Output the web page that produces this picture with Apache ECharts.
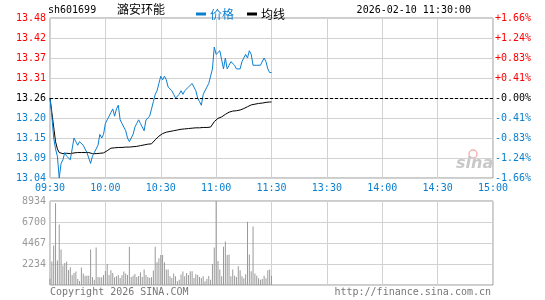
<!DOCTYPE html>
<html>
<head>
<meta charset="utf-8">
<script src="https://cdn.jsdelivr.net/npm/echarts@6/dist/echarts.min.js"></script>
<style>
html, body { margin: 0; padding: 0; background: #fff; }
#main { width: 545px; height: 300px; }
</style>
</head>
<body>
<div id="main"></div>
<script>
var stockCode = 'sh601699';
var stockName = '潞安环能';
var quoteTime = '2026-02-10 11:30:00';
var prevClose = 13.26;

var timeLabels = ['09:30', '10:00', '10:30', '11:00', '11:30', '13:30', '14:00', '14:30', '15:00'];
var priceLabels = ['13.04', '13.09', '13.15', '13.20', '13.26', '13.31', '13.37', '13.42', '13.48'];
var pctLabels = ['-1.66%', '-1.24%', '-0.83%', '-0.41%', '-0.00%', '+0.41%', '+0.83%', '+1.24%', '+1.66%'];
var volLabels = ['', '2234', '4467', '6700', '8934'];

// one point per minute from 09:30
var prices = [
    13.26, 13.21, 13.15, 13.12, 13.10, 13.04, 13.08, 13.09, 13.11, 13.10,
    13.10, 13.09, 13.12, 13.15, 13.14, 13.13, 13.14, 13.14, 13.13, 13.12,
    13.11, 13.11, 13.08, 13.10, 13.11, 13.11, 13.13, 13.16, 13.15, 13.16,
    13.19, 13.20, 13.21, 13.22, 13.23, 13.21, 13.23, 13.24, 13.20, 13.19,
    13.18, 13.17, 13.15, 13.14, 13.14, 13.16, 13.18, 13.19, 13.20, 13.19,
    13.18, 13.17, 13.20, 13.20, 13.21, 13.23, 13.25, 13.27, 13.28, 13.30,
    13.32, 13.31, 13.32, 13.31, 13.29, 13.29, 13.28, 13.27, 13.26, 13.26,
    13.27, 13.28, 13.27, 13.28, 13.28, 13.29, 13.29, 13.30, 13.29, 13.28,
    13.26, 13.25, 13.24, 13.27, 13.27, 13.29, 13.30, 13.32, 13.34, 13.40,
    13.38, 13.38, 13.39, 13.39, 13.34, 13.37, 13.34, 13.35, 13.36, 13.36,
    13.35, 13.34, 13.34, 13.34, 13.36, 13.37, 13.38, 13.37, 13.39, 13.38,
    13.35, 13.35, 13.35, 13.35, 13.35, 13.35, 13.37, 13.36, 13.34, 13.33,
    13.33
];

var avgPrices = [
    13.26, 13.22, 13.18, 13.14, 13.12, 13.11, 13.108, 13.107, 13.108, 13.108,
    13.108, 13.107, 13.108, 13.109, 13.11, 13.11, 13.11, 13.11, 13.11, 13.11,
    13.11, 13.11, 13.108, 13.107, 13.107, 13.107, 13.107, 13.108, 13.108, 13.109,
    13.111, 13.115, 13.119, 13.122, 13.123, 13.123, 13.124, 13.124, 13.124, 13.124,
    13.124, 13.125, 13.125, 13.125, 13.126, 13.126, 13.127, 13.127, 13.128, 13.129,
    13.13, 13.131, 13.132, 13.133, 13.134, 13.134, 13.138, 13.145, 13.15, 13.155,
    13.159, 13.162, 13.164, 13.166, 13.167, 13.168, 13.169, 13.17, 13.171, 13.172,
    13.173, 13.174, 13.174, 13.175, 13.175, 13.176, 13.176, 13.177, 13.177, 13.178,
    13.178, 13.178, 13.178, 13.179, 13.179, 13.179, 13.18, 13.18, 13.183, 13.195,
    13.20, 13.204, 13.206, 13.208, 13.212, 13.215, 13.218, 13.221, 13.223, 13.224,
    13.225, 13.225, 13.226, 13.227, 13.229, 13.231, 13.233, 13.236, 13.239, 13.241,
    13.242, 13.243, 13.244, 13.245, 13.245, 13.246, 13.247, 13.248, 13.248, 13.249,
    13.249
];

var volumes = [
    676, 2492, 4200, 8686, 2599, 6444, 3774, 2065, 2350, 2492,
    1602, 1887, 1068, 1282, 1424, 641, 427, 1851, 1210, 997,
    997, 997, 3774, 854, 570, 3987, 854, 819, 819, 1068,
    1495, 2243, 1068, 1566, 1282, 819, 926, 1068, 748, 1032,
    1424, 1210, 1068, 4058, 854, 997, 1175, 854, 961, 1353,
    854, 1638, 1068, 854, 783, 819, 1531, 4058, 2421, 2848,
    3204, 3204, 2421, 1638, 1638, 926, 748, 1210, 926, 392,
    570, 1104, 1424, 926, 1282, 1068, 1460, 1460, 748, 1139,
    1068, 854, 748, 926, 392, 676, 961, 570, 2243, 3987,
    8934, 2563, 1638, 926, 4058, 4628, 3204, 3240, 926, 1638,
    997, 854, 1994, 1566, 926, 712, 1139, 6728, 3240, 1460,
    6230, 1210, 997, 712, 570, 641, 997, 712, 1566, 1638,
    997
];

var BLUE = '#0a7fd0';
var RED = '#ff0000';
var GRID = '#d2d2d2';
var FONT = 'DejaVu Sans Mono';

var priceMin = 13.04, priceMax = 13.48, priceStep = 0.055;
var volMax = 8934, volStep = 2233.5;
var timeStep = 30;

function tickIndex(v) {
    return Math.round((v - priceMin) / priceStep);
}
function tickColor(v) {
    var i = tickIndex(v);
    if (i < 4) return BLUE;
    if (i > 4) return RED;
    return '#000';
}

var priceData = prices.map(function (p, i) { return [i, p]; });
var avgData = avgPrices.map(function (p, i) { return [i, p]; });
var volData = volumes.map(function (v, i) { return [i, v]; });

// the dots did not survive the snapshot, so a pale solid line stands in
function guide() {
    return { show: true, lineStyle: { color: GRID, type: 'solid', width: 1 } };
}

var chart = echarts.init(document.getElementById('main'));

var option = {
    animation: false,
    textStyle: { fontFamily: FONT },
    legend: {
        data: ['价格', '均线'],
        left: 191,
        top: 3,
        icon: 'rect',
        itemWidth: 10,
        itemHeight: 3,
        itemGap: 13,
        textStyle: { color: 'inherit', fontSize: 12, fontFamily: 'Noto Sans CJK SC', padding: [0, 0, 0, -1] }
    },
    grid: [
        { left: 50, right: 52, top: 18, height: 160, show: true, borderColor: '#999', borderWidth: 1 },
        { left: 50, right: 52, top: 201, height: 84, show: true, borderColor: '#999', borderWidth: 1 }
    ],
    xAxis: [
        {
            type: 'value', gridIndex: 0, min: 0, max: 240, interval: timeStep,
            axisLine: { show: false }, axisTick: { show: false },
            splitLine: guide(),
            axisLabel: {
                margin: 5, color: BLUE, fontSize: 10, fontFamily: FONT,
                showMinLabel: true, showMaxLabel: true,
                formatter: function (v) { return timeLabels[Math.round(v / timeStep)]; }
            }
        },
        {
            type: 'value', gridIndex: 1, min: 0, max: 240, interval: timeStep,
            axisLine: { show: false }, axisTick: { show: false },
            splitLine: guide(),
            axisLabel: { show: false }
        }
    ],
    yAxis: [
        {
            type: 'value', gridIndex: 0, min: priceMin, max: priceMax, interval: priceStep,
            axisLine: { show: false }, axisTick: { show: false },
            splitLine: guide(),
            axisLabel: {
                margin: 4, fontSize: 10, fontFamily: FONT,
                color: function (v) { return tickColor(v); },
                formatter: function (v) { return priceLabels[tickIndex(v)]; }
            }
        },
        {
            type: 'value', gridIndex: 0, position: 'right', min: priceMin, max: priceMax, interval: priceStep,
            axisLine: { show: false }, axisTick: { show: false }, splitLine: { show: false },
            axisLabel: {
                margin: 2, fontSize: 10, fontFamily: FONT,
                color: function (v) { return tickColor(v); },
                formatter: function (v) { return pctLabels[tickIndex(v)]; }
            }
        },
        {
            type: 'value', gridIndex: 1, min: 0, max: volMax, interval: volStep,
            axisLine: { show: false }, axisTick: { show: false },
            splitLine: guide(),
            axisLabel: {
                margin: 4, fontSize: 10, fontFamily: FONT, color: '#999',
                formatter: function (v) { return volLabels[Math.round(v / volStep)]; }
            }
        }
    ],
    series: [
        {
            name: '均线', type: 'line', xAxisIndex: 0, yAxisIndex: 0,
            data: avgData, showSymbol: false, symbol: 'none',
            lineStyle: { color: '#000', width: 1 }, itemStyle: { color: '#000' },
            z: 2
        },
        {
            name: '价格', type: 'line', xAxisIndex: 0, yAxisIndex: 0,
            data: priceData, showSymbol: false, symbol: 'none',
            lineStyle: { color: BLUE, width: 1 }, itemStyle: { color: BLUE },
            z: 3,
            markLine: {
                silent: true, symbol: 'none', label: { show: false },
                lineStyle: { color: '#000', type: [3, 2], width: 1 },
                data: [{ yAxis: prevClose }]
            }
        },
        {
            name: '成交量', type: 'bar', xAxisIndex: 1, yAxisIndex: 2,
            data: volData, barWidth: 1, z: 2,
            itemStyle: { color: '#999' }
        }
    ],
    graphic: [
        { type: 'text', left: 48, top: 5, style: { text: stockCode, font: '10px "DejaVu Sans Mono"', fill: '#000' } },
        { type: 'text', left: 117, top: 3, style: { text: stockName, font: '12px "Noto Sans CJK SC"', fill: '#000' } },
        { type: 'text', right: 74, top: 5, style: { text: quoteTime, font: '10px "DejaVu Sans Mono"', fill: '#000' } },
        { type: 'text', left: 50, top: 287, style: { text: 'Copyright 2026 SINA.COM', font: '10px "DejaVu Sans Mono"', fill: '#777' } },
        { type: 'text', right: 54, top: 287, style: { text: 'http://finance.sina.com.cn', font: '10px "DejaVu Sans Mono"', fill: '#777' } },
        { type: 'circle', shape: { cx: 473, cy: 154, r: 4 }, style: { fill: 'none', stroke: '#f3b3b3', lineWidth: 1.5 } },
        { type: 'text', left: 456, top: 156, style: { text: 'sina', font: 'italic bold 16px "DejaVu Sans"', fill: '#c8c8c8' } }
    ]
};

chart.setOption(option);
</script>
</body>
</html>
